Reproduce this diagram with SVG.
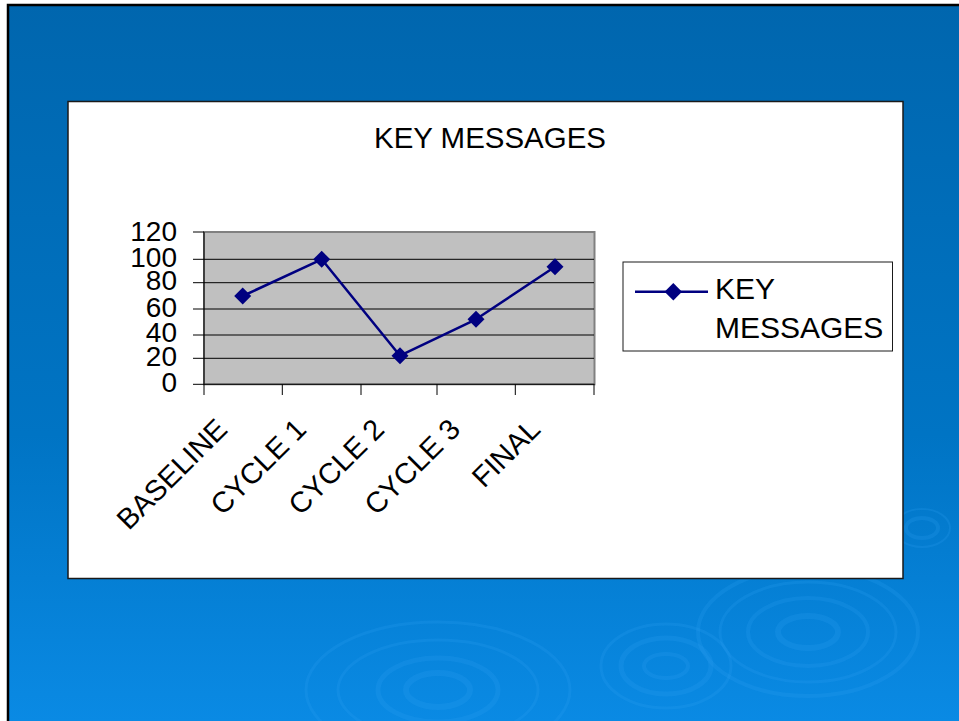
<svg xmlns="http://www.w3.org/2000/svg" width="959" height="721" viewBox="0 0 959 721">
  <defs>
    <linearGradient id="bg" x1="0" y1="0" x2="0" y2="1">
      <stop offset="0" stop-color="#0066ae"/>
      <stop offset="0.6" stop-color="#0074c4"/>
      <stop offset="1" stop-color="#0a8ae4"/>
    </linearGradient>
    <style>
      .t { font-family: "Liberation Sans", Arial, sans-serif; fill: #000; }
      .ax { font-size: 28px; text-anchor: end; }
      .cat { font-size: 29px; text-anchor: end; }
      .grid { stroke: #000; stroke-width: 1; }
      .tick { stroke: #000; stroke-width: 1; }
      .ripple { fill: none; stroke: #2f9ef0; stroke-opacity: 0.22; }
      .series { fill: none; stroke: #000080; stroke-width: 2.5; stroke-linejoin: round; }
      .mk { fill: #000080; }
    </style>
  </defs>

  <!-- slide background -->
  <rect x="0" y="0" width="959" height="721" fill="#ffffff"/>
  <rect x="7" y="4" width="952" height="717" fill="url(#bg)"/>
  <path d="M8 721 V5 H959" fill="none" stroke="#000" stroke-width="2.5"/>

  <!-- decorative ripples -->
  <g id="ripples">
    <ellipse class="ripple" cx="808" cy="632" rx="110" ry="64" stroke-width="4"/>
    <ellipse class="ripple" cx="808" cy="632" rx="88" ry="50" stroke-width="3"/>
    <ellipse class="ripple" cx="808" cy="632" rx="60" ry="34" stroke-width="4"/>
    <ellipse class="ripple" cx="808" cy="632" rx="30" ry="16" stroke-width="6"/>
    <ellipse class="ripple" cx="666" cy="666" rx="65" ry="42" stroke-width="3"/>
    <ellipse class="ripple" cx="666" cy="666" rx="45" ry="28" stroke-width="5"/>
    <ellipse class="ripple" cx="666" cy="666" rx="22" ry="12" stroke-width="4"/>
    <ellipse class="ripple" cx="438" cy="690" rx="132" ry="68" stroke-width="3"/>
    <ellipse class="ripple" cx="438" cy="690" rx="100" ry="50" stroke-width="3"/>
    <ellipse class="ripple" cx="438" cy="690" rx="60" ry="32" stroke-width="5"/>
    <ellipse class="ripple" cx="438" cy="690" rx="32" ry="17" stroke-width="6"/>
    <ellipse class="ripple" cx="922" cy="528" rx="28" ry="19" stroke-width="2"/>
    <ellipse class="ripple" cx="922" cy="528" rx="16" ry="10" stroke-width="4"/>
  </g>

  <!-- chart panel -->
  <g id="panel">
    <rect x="68" y="101.5" width="835" height="477" fill="#ffffff" stroke="#1a1a1a" stroke-width="1.5"/>
  </g>

  <g id="title">
    <text class="t" x="490" y="148" font-size="29" text-anchor="middle" textLength="232" lengthAdjust="spacingAndGlyphs">KEY MESSAGES</text>
  </g>

  <!-- plot area -->
  <g id="plot">
    <rect x="204" y="232" width="390.5" height="152.3" fill="#c0c0c0" stroke="#808080" stroke-width="2"/>
    <line class="grid" x1="204" y1="259.3" x2="594" y2="259.3"/>
    <line class="grid" x1="204" y1="282.7" x2="594" y2="282.7"/>
    <line class="grid" x1="204" y1="309" x2="594" y2="309"/>
    <line class="grid" x1="204" y1="335" x2="594" y2="335"/>
    <line class="grid" x1="204" y1="358.3" x2="594" y2="358.3"/>
    <line class="tick" x1="204" y1="232" x2="204" y2="395"/>
    <line class="tick" x1="193" y1="384.3" x2="594.5" y2="384.3"/>
    <!-- y ticks -->
    <line class="tick" x1="193" y1="232" x2="204" y2="232"/>
    <line class="tick" x1="193" y1="259.3" x2="204" y2="259.3"/>
    <line class="tick" x1="193" y1="282.7" x2="204" y2="282.7"/>
    <line class="tick" x1="193" y1="309" x2="204" y2="309"/>
    <line class="tick" x1="193" y1="335" x2="204" y2="335"/>
    <line class="tick" x1="193" y1="358.3" x2="204" y2="358.3"/>
    <!-- x ticks -->
    <line class="tick" x1="282.3" y1="384.3" x2="282.3" y2="395"/>
    <line class="tick" x1="361" y1="384.3" x2="361" y2="395"/>
    <line class="tick" x1="437" y1="384.3" x2="437" y2="395"/>
    <line class="tick" x1="515.3" y1="384.3" x2="515.3" y2="395"/>
    <line class="tick" x1="594" y1="384.3" x2="594" y2="395"/>
  </g>

  <g id="y-axis-labels">
    <text class="t ax" x="177" y="241">120</text>
    <text class="t ax" x="177" y="267">100</text>
    <text class="t ax" x="177" y="290.3">80</text>
    <text class="t ax" x="177" y="316.7">60</text>
    <text class="t ax" x="177" y="342">40</text>
    <text class="t ax" x="177" y="366">20</text>
    <text class="t ax" x="177" y="392">0</text>
  </g>

  <g id="x-axis-labels">
    <text class="t cat" transform="translate(229,431) rotate(-45)">BASELINE</text>
    <text class="t cat" transform="translate(308,431) rotate(-45)">CYCLE 1</text>
    <text class="t cat" transform="translate(386,431) rotate(-45)">CYCLE 2</text>
    <text class="t cat" transform="translate(462,431) rotate(-45)">CYCLE 3</text>
    <text class="t cat" transform="translate(542,431) rotate(-45)">FINAL</text>
  </g>

  <g id="connectors">
    <polyline class="series" points="242.7,296 321.7,259.3 400,355.7 476,319.3 555,266.7"/>
  </g>

  <g id="markers">
    <polygon id="pt-baseline" class="mk" points="242.7,287.5 251.2,296 242.7,304.5 234.2,296"/>
    <polygon id="pt-cycle1" class="mk" points="321.7,250.8 330.2,259.3 321.7,267.8 313.2,259.3"/>
    <polygon id="pt-cycle2" class="mk" points="400,347.2 408.5,355.7 400,364.2 391.5,355.7"/>
    <polygon id="pt-cycle3" class="mk" points="476,310.8 484.5,319.3 476,327.8 467.5,319.3"/>
    <polygon id="pt-final" class="mk" points="555,258.2 563.5,266.7 555,275.2 546.5,266.7"/>
  </g>

  <g id="legend">
    <rect x="623" y="262" width="269.5" height="89" fill="#ffffff" stroke="#1a1a1a" stroke-width="1"/>
    <line x1="635" y1="291.7" x2="708" y2="291.7" stroke="#000080" stroke-width="2.5"/>
    <polygon class="mk" points="673.3,283 682,291.7 673.3,300.4 664.6,291.7"/>
    <text class="t" x="715" y="299" font-size="30">KEY</text>
    <text class="t" x="715" y="337.5" font-size="30">MESSAGES</text>
  </g>
</svg>
